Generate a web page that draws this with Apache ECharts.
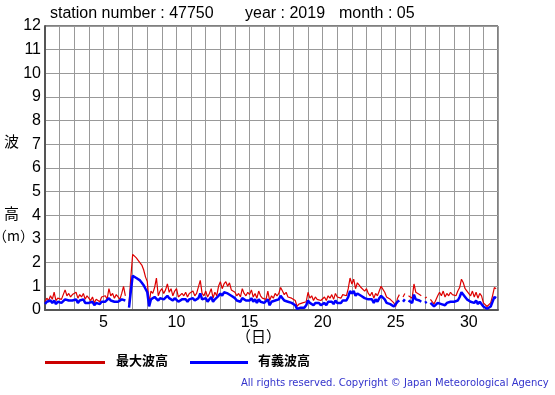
<!DOCTYPE html>
<html><head><meta charset="utf-8">
<script src="https://cdn.jsdelivr.net/npm/echarts@6/dist/echarts.min.js"></script>
<style>html,body{margin:0;padding:0;background:#fff}#c{width:555px;height:395px}</style>
</head><body><div id="c"></div>
<script>
// 3-hourly values starting at day 1, 00h (8 per day)
const startDay = 1;
const stepDay = 1/8;
const maxWave = [
0.35,0.5,0.4,0.6,0.45,0.75,0.4,0.5,
0.55,0.45,0.5,0.85,0.6,0.7,0.55,0.65,
0.6,0.75,0.5,0.65,0.55,0.7,0.45,0.6,
0.5,0.4,0.55,0.3,0.45,0.5,0.35,0.55,
0.5,0.6,0.45,0.9,0.6,0.7,0.5,0.65,
0.55,0.45,0.7,1.0,0.6,null,0.25,1.4,
2.35,2.3,2.2,2.1,2.05,1.9,1.7,1.4,
1.2,0.3,0.8,0.7,0.95,1.35,0.6,0.8,
0.9,0.7,0.85,1.1,0.75,0.9,0.6,0.8,
0.9,0.55,0.5,0.7,0.6,0.75,0.55,0.7,
0.65,0.8,0.6,0.7,0.75,1.25,0.7,0.6,
0.8,0.55,0.7,0.9,0.5,0.75,0.6,1.0,
1.2,0.9,1.1,1.2,1.0,1.15,0.85,0.9,
0.75,0.6,0.7,0.55,0.9,0.7,0.6,0.75,
0.65,0.85,0.55,0.7,0.5,0.8,0.6,0.5,
0.55,0.45,0.8,0.4,0.6,0.5,0.7,0.6,
0.7,0.95,0.8,0.65,0.75,0.55,0.6,0.5,
0.55,0.4,0.15,0.25,0.2,0.3,0.25,0.35,
0.75,0.5,0.6,0.4,0.55,0.45,0.5,0.4,
0.45,0.55,0.4,0.6,0.5,0.65,0.45,0.7,
0.55,0.6,0.5,0.65,0.7,0.6,0.9,1.35,
1.1,1.3,0.9,1.15,1.05,0.95,1.0,0.8,
0.9,0.7,0.6,0.75,0.5,0.7,0.6,0.8,
1.0,0.95,0.75,0.55,0.6,0.45,0.5,0.3,
0.15,0.5,0.65,null,0.55,0.7,null,0.6,
0.65,0.5,1.1,0.75,0.7,0.65,0.6,null,
0.5,0.55,null,0.45,0.5,0.25,0.2,0.6,
0.75,0.6,0.8,0.55,0.7,0.6,0.75,0.65,
0.7,0.6,0.8,0.95,1.3,1.15,0.9,0.8,
0.75,0.6,0.8,0.55,0.75,0.5,0.7,0.6,
0.3,0.25,0.15,0.2,0.3,0.6,0.95,0.9
];
const sigWave = [
0.25,0.35,0.3,0.4,0.3,0.4,0.25,0.35,
0.35,0.3,0.35,0.45,0.4,0.4,0.35,0.4,
0.4,0.45,0.3,0.4,0.35,0.45,0.3,0.35,
0.3,0.25,0.35,0.2,0.3,0.3,0.25,0.35,
0.3,0.35,0.3,0.5,0.4,0.45,0.35,0.4,
0.35,0.3,0.45,0.5,0.4,null,0.1,0.8,
1.45,1.45,1.35,1.3,1.25,1.15,1.05,0.9,
0.75,0.15,0.45,0.4,0.55,0.6,0.4,0.5,
0.55,0.45,0.5,0.6,0.5,0.55,0.4,0.5,
0.5,0.35,0.3,0.45,0.4,0.45,0.35,0.45,
0.4,0.5,0.4,0.45,0.5,0.7,0.45,0.4,
0.5,0.35,0.45,0.55,0.35,0.45,0.4,0.6,
0.7,0.6,0.75,0.8,0.7,0.75,0.6,0.55,
0.5,0.4,0.45,0.35,0.5,0.45,0.4,0.45,
0.4,0.5,0.35,0.45,0.3,0.45,0.35,0.3,
0.3,0.25,0.45,0.2,0.35,0.3,0.4,0.35,
0.45,0.6,0.5,0.4,0.45,0.35,0.4,0.3,
0.3,0.2,0.05,0.1,0.1,0.15,0.1,0.2,
0.4,0.3,0.35,0.2,0.3,0.25,0.3,0.2,
0.25,0.3,0.2,0.35,0.3,0.35,0.25,0.4,
0.3,0.35,0.3,0.4,0.45,0.4,0.55,0.8,
0.7,0.8,0.6,0.7,0.65,0.6,0.65,0.5,
0.55,0.45,0.4,0.45,0.3,0.45,0.35,0.5,
0.6,0.55,0.45,0.3,0.35,0.25,0.3,0.15,
0.1,0.35,0.4,null,0.35,0.45,null,0.4,
0.4,0.3,0.65,0.45,0.45,0.4,0.35,null,
0.3,0.35,null,0.3,0.3,0.15,0.1,0.3,
0.35,0.25,0.3,0.2,0.3,0.25,0.35,0.3,
0.35,0.3,0.4,0.55,0.75,0.7,0.55,0.45,
0.45,0.35,0.4,0.3,0.4,0.25,0.35,0.3,
0.15,0.1,0.05,0.1,0.15,0.35,0.55,0.5
];
const xTickLabels = [5,10,15,20,25,30];
const yTickLabels = [0,1,2,3,4,5,6,7,8,9,10,11,12];
const titleParts = ["station number : 47750","year : 2019","month : 05"];
const legendNames = ["最大波高","有義波高"];

const toPairs = arr => arr.map((v,i)=>[startDay + i*stepDay, v]);

const chart = echarts.init(document.getElementById('c'), null, {renderer:'canvas'});
const F = '"Liberation Sans", Arial, sans-serif';
const CJK = '"Noto Sans CJK JP"';
chart.setOption({
  animation:false,
  backgroundColor:'#fff',
  grid:{left:45,right:57,top:26,bottom:85,show:true,borderColor:'#000',borderWidth:1,backgroundColor:'transparent'},
  xAxis:{type:'value',min:1,max:32,interval:1,
    axisLine:{show:true,onZero:false,lineStyle:{color:'#555',width:2}},
    axisTick:{show:false},
    splitLine:{show:true,lineStyle:{color:'#999',width:1}},
    axisLabel:{fontFamily:F,fontSize:16,color:'#000',margin:5,
      formatter:v=>xTickLabels.indexOf(v)>=0?String(v):''}},
  yAxis:{type:'value',min:0,max:12,interval:1,
    axisLine:{show:true,lineStyle:{color:'#555',width:2}},
    axisTick:{show:false},
    splitLine:{show:true,lineStyle:{color:'#999',width:1}},
    axisLabel:{fontFamily:F,fontSize:16,color:'#000',margin:4,
      formatter:v=>yTickLabels.indexOf(v)>=0?String(v):''}},
  series:[
    {type:'line',name:legendNames[0],data:toPairs(maxWave),showSymbol:false,connectNulls:false,
      lineStyle:{color:'#dd0000',width:1.2},itemStyle:{color:'#dd0000'},z:2},
    {type:'line',name:legendNames[1],data:toPairs(sigWave),showSymbol:false,connectNulls:false,
      lineStyle:{color:'#0000ff',width:2.5},itemStyle:{color:'#0000ff'},z:3}
  ],
  graphic:[
    {type:'text',left:50,top:6,style:{text:titleParts[0],font:'16px '+F,fill:'#000'}},
    {type:'text',left:245,top:6,style:{text:titleParts[1],font:'16px '+F,fill:'#000'}},
    {type:'text',left:339,top:6,style:{text:titleParts[2],font:'16px '+F,fill:'#000'}},
    {type:'text',left:4,top:134,style:{text:'波',font:'15px '+CJK,fill:'#000'}},
    {type:'text',left:4,top:206,style:{text:'高',font:'15px '+CJK,fill:'#000'}},
    {type:'text',left:-7,top:229,style:{text:'（m）',font:'14px '+CJK,fill:'#000'}},
    {type:'text',left:236,top:329,style:{text:'（日）',font:'15px '+CJK,fill:'#000'}},
    {type:'rect',shape:{x:45,y:361,width:60,height:3},style:{fill:'#cc0000'}},
    {type:'text',left:116,top:354,style:{text:legendNames[0],font:'bold 13px '+CJK,fill:'#000'}},
    {type:'rect',shape:{x:190,y:361,width:58,height:3},style:{fill:'#0000ff'}},
    {type:'text',left:258,top:354,style:{text:legendNames[1],font:'bold 13px '+CJK,fill:'#000'}},
    {type:'text',left:241,top:378,style:{text:'All rights reserved. Copyright © Japan Meteorological Agency',font:'10px "DejaVu Sans"',fill:'#3333cc'}}
  ]
});
</script></body></html>
